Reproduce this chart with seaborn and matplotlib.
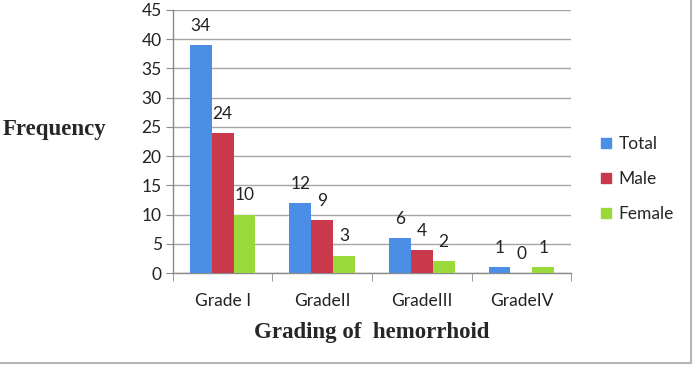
import matplotlib
matplotlib.use("Agg")
import matplotlib.pyplot as plt
import seaborn as sns
import pandas as pd
from matplotlib.lines import Line2D

categories = ["Grade I", "GradeII", "GradeIII", "GradeIV"]
series = ["Total", "Male", "Female"]
total = [39, 12, 6, 1]
male = [24, 9, 4, 0]
female = [10, 3, 2, 1]
total_labels = ["34", "12", "6", "1"]
male_labels = ["24", "9", "4", "0"]
female_labels = ["10", "3", "2", "1"]
colors = ["#4A8EE6", "#C9384B", "#9BD93A"]

rows = []
for s, vals in zip(series, [total, male, female]):
    for c, v in zip(categories, vals):
        rows.append({"Grade": c, "Series": s, "Value": v})
df = pd.DataFrame(rows)

sns.set_style("white")
plt.rcParams["font.family"] = ["Lato", "DejaVu Sans"]

fig = plt.figure(figsize=(6.94, 3.69), dpi=100)
ax = fig.add_axes([0.249, 0.260, 0.574, 0.713])

sns.barplot(data=df, x="Grade", y="Value", hue="Series", palette=colors,
            order=categories, hue_order=series, width=0.66, saturation=1,
            ax=ax, legend=False, linewidth=0, zorder=3)

for cont, labs in zip(ax.containers, [total_labels, male_labels, female_labels]):
    ax.bar_label(cont, labels=labs, padding=8, fontsize=12.5, color="#222222")

ax.set_ylim(0, 45)
ax.set_yticks(range(0, 46, 5))
ax.set_xlim(-0.5, 3.5)
ax.yaxis.grid(True, color="#a5a5a5", linewidth=1.0, zorder=0)
ax.set_axisbelow(True)
for sp in ["top", "right"]:
    ax.spines[sp].set_visible(False)
for sp in ["left", "bottom"]:
    ax.spines[sp].set_color("#8a8a8a")
    ax.spines[sp].set_linewidth(1.0)

ax.tick_params(axis="y", which="major", left=True, length=5, color="#8a8a8a",
               labelsize=12.5, labelcolor="#222222", pad=3)
ax.set_xticks([0, 1, 2, 3])
ax.set_xticklabels(categories)
ax.set_xticks([-0.5, 0.5, 1.5, 2.5, 3.5], minor=True)
ax.tick_params(axis="x", which="major", bottom=False, labelsize=12.5,
               labelcolor="#222222", pad=11)
ax.tick_params(axis="x", which="minor", bottom=True, length=6, color="#8a8a8a")

ax.set_xlabel("")
ax.set_ylabel("")
fig.text(0.004, 0.648, "Frequency", fontsize=16.5, fontweight="bold",
         family=["Liberation Serif", "DejaVu Serif"], va="center", ha="left")
fig.text(0.536, 0.1, "Grading of  hemorrhoid", fontsize=16.5, fontweight="bold",
         family=["Liberation Serif", "DejaVu Serif"], va="center", ha="center")

handles = [Line2D([0], [0], marker="s", linestyle="", markersize=7.5,
                  markerfacecolor=c, markeredgecolor=c) for c in colors]
fig.legend(handles, series, loc="center left", bbox_to_anchor=(0.85, 0.515),
           frameon=False, fontsize=12.5, handletextpad=0.25, labelspacing=1.1,
           handlelength=0.9, borderpad=0)

fig.add_artist(Line2D([0.0, 0.995], [0.017, 0.017], color="#b5b5b5",
                      linewidth=1.5, transform=fig.transFigure))
fig.add_artist(Line2D([0.995, 0.995], [0.017, 1.0], color="#b5b5b5",
                      linewidth=1.5, transform=fig.transFigure))

fig.savefig("out.png", dpi=100)
